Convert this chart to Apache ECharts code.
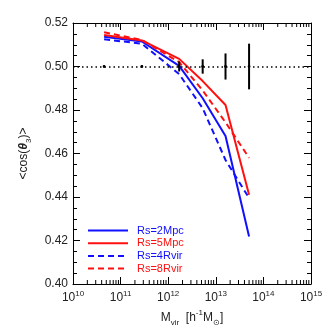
<!DOCTYPE html>
<html>
<head>
<meta charset="utf-8">
<title>cos theta3 vs Mvir</title>
<script src="https://cdn.jsdelivr.net/npm/echarts@6/dist/echarts.min.js"></script>
<style>
  html, body { margin: 0; padding: 0; background: #fff; }
  #main { width: 332px; height: 332px; }
</style>
</head>
<body>
<div id="main"></div>
<script>
// halo mass bins [h^-1 Msun]
var massBins = [4.5e10, 2.8e11, 1.7e12, 5.3e12, 1.6e13, 5.0e13];
var rs2Mpc  = [0.5137, 0.5115, 0.5003, 0.4854, 0.4680, 0.4218];
var rs5Mpc  = [0.5145, 0.5120, 0.5035, 0.4933, 0.4823, 0.4410];
var rs4Rvir = [0.5125, 0.5105, 0.4965, 0.4808, 0.4570, 0.4395];
var rs8Rvir = [0.5157, 0.5122, 0.5020, 0.4890, 0.4743, 0.4580];
// random expectation and its scatter
var randomLevel = 0.50;
var randomErr = [0.0004, 0.0005, 0.0023, 0.0033, 0.0060, 0.0105];
var xDecades = [10, 11, 12, 13, 14, 15];

var FONT = 'Liberation Sans';
var BLUE = '#1010ff', RED = '#ff1010';

function pairs(ys) {
  return massBins.map(function (m, i) { return [m, ys[i]]; });
}

// log minor tick positions 2..9 x 10^n
var minorX = [];
for (var n = xDecades[0]; n < xDecades[xDecades.length - 1]; n++) {
  for (var k = 2; k <= 9; k++) minorX.push([k * Math.pow(10, n)]);
}

var chart = echarts.init(document.getElementById('main'));

function lineSeries(name, ys, color, dashed) {
  return {
    name: name, type: 'line', data: pairs(ys),
    symbol: 'none', z: 3,
    lineStyle: { color: color, width: 2, type: dashed ? [6, 4] : 'solid' },
    itemStyle: { color: color }
  };
}

var xAxisBase = {
  type: 'log', logBase: 10, min: 1e10, max: 1e15,
  axisLine: { lineStyle: { color: '#000', width: 1 } },
  axisTick: { inside: true, length: 7, lineStyle: { color: '#000' } },
  splitLine: { show: false }
};
var yAxisBase = {
  type: 'value', min: 0.40, max: 0.52, interval: 0.02,
  axisLine: { show: true, lineStyle: { color: '#000', width: 1 } },
  axisTick: { inside: true, length: 7, lineStyle: { color: '#000' } },
  minorTick: { show: true, splitNumber: 4, length: 4, lineStyle: { color: '#000' } },
  splitLine: { show: false }
};

var option = {
  animation: false,
  backgroundColor: '#fff',
  textStyle: { fontFamily: FONT },
  grid: { left: 73, right: 21, top: 23, bottom: 48 },
  legend: {
    orient: 'vertical', left: 82, top: 220,
    itemWidth: 40, itemHeight: 10, itemGap: 1.7,
    itemStyle: { opacity: 0 },
    textStyle: { fontFamily: FONT, fontSize: 11, padding: [0, 0, 0, 4] },
    data: [
      { name: 'Rs=2Mpc', textStyle: { color: BLUE } },
      { name: 'Rs=5Mpc', textStyle: { color: RED } },
      { name: 'Rs=4Rvir', textStyle: { color: BLUE } },
      { name: 'Rs=8Rvir', textStyle: { color: RED } }
    ]
  },
  xAxis: [
    Object.assign({}, xAxisBase, {
      position: 'bottom',
      axisLabel: {
        margin: 6,
        formatter: function (v) {
          return '{b|10}{s|' + Math.round(Math.log10(v)) + '}';
        },
        rich: {
          b: { fontFamily: FONT, fontSize: 12, color: '#222', lineHeight: 16 },
          s: { fontFamily: FONT, fontSize: 8, color: '#222', verticalAlign: 'top', lineHeight: 9 }
        }
      },
      name: '{m|M}{sub|vir}{m|  [h}{sup|-1}{m|M}{sub|\u2299}{m|]}',
      nameLocation: 'middle', nameGap: 19,
      nameTextStyle: {
        rich: {
          m: { fontFamily: FONT, fontSize: 12, color: '#222', lineHeight: 18 },
          sub: { fontFamily: FONT, fontSize: 8, color: '#222', verticalAlign: 'bottom', lineHeight: 10 },
          sup: { fontFamily: FONT, fontSize: 8, color: '#222', verticalAlign: 'top', lineHeight: 10 }
        }
      }
    }),
    Object.assign({}, xAxisBase, { position: 'top', axisLabel: { show: false } })
  ],
  yAxis: [
    Object.assign({}, yAxisBase, {
      position: 'left',
      axisLabel: {
        fontFamily: FONT, fontSize: 12, color: '#222', margin: 5,
        formatter: function (v) { return v.toFixed(2); }
      },
      name: '{m|<cos(}{t|\u03b8}{sub|3}{m|)>}',
      nameLocation: 'middle', nameRotate: 90, nameGap: 40,
      nameTextStyle: {
        rich: {
          m: { fontFamily: FONT, fontSize: 12, color: '#222', lineHeight: 18 },
          t: { fontFamily: FONT, fontSize: 12, color: '#222', fontStyle: 'italic', fontWeight: 'bold', lineHeight: 18 },
          sub: { fontFamily: FONT, fontSize: 8, color: '#222', verticalAlign: 'bottom', lineHeight: 10 }
        }
      }
    }),
    Object.assign({}, yAxisBase, { position: 'right', axisLabel: { show: false } })
  ],
  series: [
    lineSeries('Rs=2Mpc', rs2Mpc, BLUE, false),
    lineSeries('Rs=5Mpc', rs5Mpc, RED, false),
    lineSeries('Rs=4Rvir', rs4Rvir, BLUE, true),
    lineSeries('Rs=8Rvir', rs8Rvir, RED, true),
    {
      // random-orientation level
      type: 'line', data: [], silent: true,
      markLine: {
        silent: true, symbol: 'none', label: { show: false },
        lineStyle: { color: '#000', type: [1.5, 3], width: 1.5 },
        data: [{ yAxis: randomLevel }]
      }
    },
    {
      // scatter of random expectation
      type: 'custom', z: 5, silent: true,
      data: massBins.map(function (m, i) { return [m, randomLevel, randomErr[i]]; }),
      renderItem: function (params, api) {
        var lo = api.coord([api.value(0), api.value(1) - api.value(2)]);
        var hi = api.coord([api.value(0), api.value(1) + api.value(2)]);
        return {
          type: 'group',
          children: [
            { type: 'line', shape: { x1: lo[0], y1: lo[1], x2: hi[0], y2: hi[1] },
              style: { stroke: '#000', lineWidth: 2 } },
            { type: 'circle', shape: { cx: lo[0], cy: (lo[1] + hi[1]) / 2, r: 1.4 },
              style: { fill: '#000' } }
          ]
        };
      }
    },
    {
      // log minor ticks, bottom and top
      type: 'custom', z: 4, silent: true,
      data: minorX,
      renderItem: function (params, api) {
        var cs = params.coordSys;
        var x = api.coord([api.value(0), randomLevel])[0];
        var yb = cs.y + cs.height, yt = cs.y;
        return {
          type: 'group',
          children: [
            { type: 'line', shape: { x1: x, y1: yb, x2: x, y2: yb - 4 }, style: { stroke: '#000', lineWidth: 1 } },
            { type: 'line', shape: { x1: x, y1: yt, x2: x, y2: yt + 4 }, style: { stroke: '#000', lineWidth: 1 } }
          ]
        };
      }
    }
  ]
};
chart.setOption(option);
</script>
</body>
</html>
